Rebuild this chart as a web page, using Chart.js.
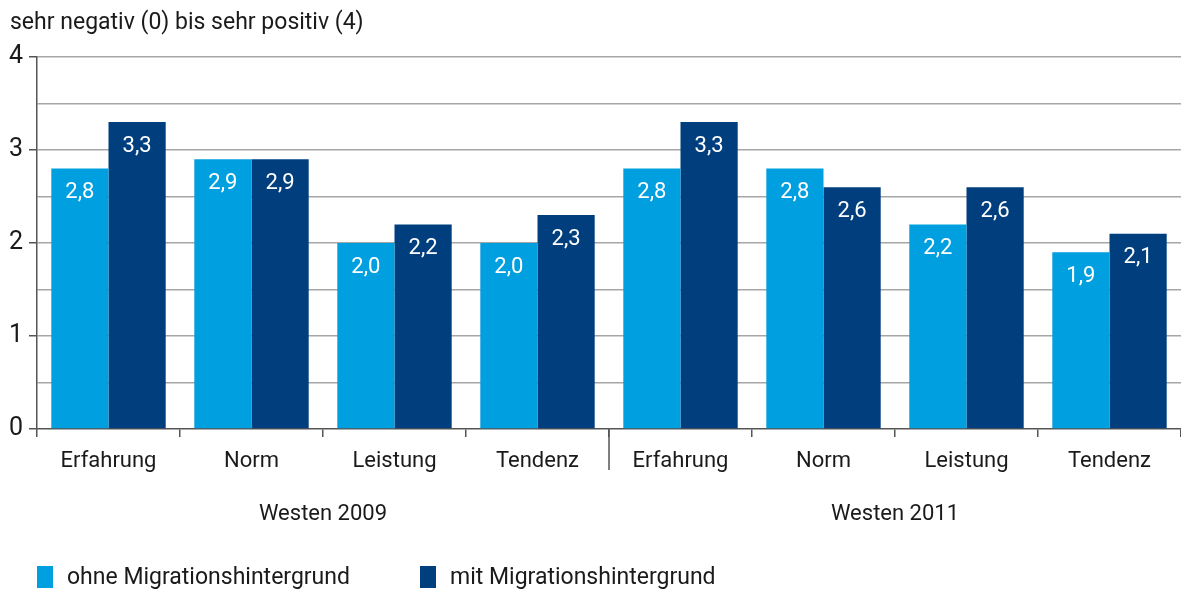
<!DOCTYPE html>
<html>
<head>
<meta charset="utf-8">
<script src="https://cdn.jsdelivr.net/npm/chart.js@4/dist/chart.umd.min.js"></script>
<style>
  html, body { margin: 0; padding: 0; background: #fff; overflow: hidden; }
  #wrap { width: 1181px; height: 592px; position: relative; }
</style>
</head>
<body>
<div id="wrap"><canvas id="barChart" width="1181" height="592"></canvas></div>
<script>
// ─── Data ─────────────────────────────────────────────────────────────────────
const categories  = ['Erfahrung', 'Norm', 'Leistung', 'Tendenz', 'Erfahrung', 'Norm', 'Leistung', 'Tendenz'];
const groups      = ['Westen 2009', 'Westen 2011'];
const ohneValues  = [2.8, 2.9, 2.0, 2.0, 2.8, 2.8, 2.2, 1.9];
const mitValues   = [3.3, 2.9, 2.2, 2.3, 3.3, 2.6, 2.6, 2.1];
const seriesNames = ['ohne Migrationshintergrund', 'mit Migrationshintergrund'];
const yLabelTicks = [0, 1, 2, 3, 4];
const yTitle      = 'sehr negativ (0) bis sehr positiv (4)';

const LIGHT = '#009fdf';
const DARK  = '#003e7e';
const FONT  = 'Roboto';
const TEXT  = '#1a1a1a';
const AXIS  = '#555555';

// ─── Plugins ──────────────────────────────────────────────────────────────────
const valueLabels = {
  id: 'valueLabels',
  afterDatasetsDraw(chart) {
    const { ctx } = chart;
    ctx.save();
    ctx.fillStyle = '#ffffff';
    ctx.font = `22px ${FONT}`;
    ctx.textAlign = 'center';
    ctx.textBaseline = 'middle';
    chart.data.datasets.forEach((ds, di) => {
      chart.getDatasetMeta(di).data.forEach((bar, i) => {
        const txt = ds.data[i].toFixed(1).replace('.', ',');
        ctx.fillText(txt, bar.x, bar.y + 24);
      });
    });
    ctx.restore();
  }
};

const extras = {
  id: 'extras',
  afterDraw(chart) {
    const { ctx, chartArea } = chart;
    const x = chart.scales.x;
    ctx.save();
    // axis title
    ctx.fillStyle = TEXT;
    ctx.font = `23px ${FONT}`;
    ctx.textAlign = 'left';
    ctx.textBaseline = 'middle';
    ctx.fillText(yTitle, 10, 23);

    // group divider and group labels
    const per = categories.length / groups.length;
    const mid = (x.getPixelForValue(per - 1) + x.getPixelForValue(per)) / 2;
    ctx.strokeStyle = AXIS;
    ctx.lineWidth = 1.5;
    ctx.beginPath();
    ctx.moveTo(mid, chartArea.bottom);
    ctx.lineTo(mid, chartArea.bottom + 41);
    ctx.stroke();

    ctx.font = `22px ${FONT}`;
    ctx.textAlign = 'center';
    groups.forEach((g, gi) => {
      const cx = (x.getPixelForValue(gi * per) + x.getPixelForValue(gi * per + per - 1)) / 2;
      ctx.fillText(g, cx, 514);
    });

    // legend
    ctx.font = `23px ${FONT}`;
    const legendX = [chartArea.left, chartArea.left + 383];
    chart.data.datasets.forEach((ds, di) => {
      ctx.fillStyle = ds.backgroundColor;
      ctx.fillRect(legendX[di], 566, 16, 22);
      ctx.fillStyle = TEXT;
      ctx.textAlign = 'left';
      ctx.fillText(ds.label, legendX[di] + 30, 578);
    });
    ctx.restore();
  }
};

// ─── Chart ────────────────────────────────────────────────────────────────────
const ctx = document.getElementById('barChart').getContext('2d');
new Chart(ctx, {
  type: 'bar',
  data: {
    labels: categories,
    datasets: [
      { label: seriesNames[0], data: ohneValues, backgroundColor: LIGHT, borderWidth: 0 },
      { label: seriesNames[1], data: mitValues,  backgroundColor: DARK,  borderWidth: 0 }
    ]
  },
  options: {
    responsive: false,
    animation: false,
    devicePixelRatio: 1,
    layout: { padding: { top: 57, left: 0, right: 0, bottom: 0 } },
    datasets: { bar: { categoryPercentage: 0.8, barPercentage: 1.0 } },
    plugins: { legend: { display: false }, tooltip: { enabled: false } },
    scales: {
      x: {
        grid: { offset: true, drawOnChartArea: false, tickLength: 8, color: AXIS, lineWidth: 1.5 },
        border: { color: AXIS, width: 1.5 },
        ticks: { color: TEXT, font: { family: FONT, size: 22 }, padding: 11, maxRotation: 0 },
        afterFit(s) { s.height = 163; }
      },
      y: {
        min: 0, max: 4,
        ticks: {
          stepSize: 0.5, color: TEXT, font: { family: FONT, size: 25 }, padding: 6,
          callback: v => yLabelTicks.includes(v) ? String(v) : ''
        },
        grid: {
          color: c => c.tick && c.tick.value === 0 ? 'transparent' : '#a6a6a6',
          lineWidth: 1.5,
          tickColor: c => c.tick && yLabelTicks.includes(c.tick.value) ? AXIS : 'transparent',
          tickLength: 8
        },
        border: { color: AXIS, width: 1.5 },
        afterFit(s) { s.width = 37; }
      }
    }
  },
  plugins: [valueLabels, extras]
});
</script>
</body>
</html>
